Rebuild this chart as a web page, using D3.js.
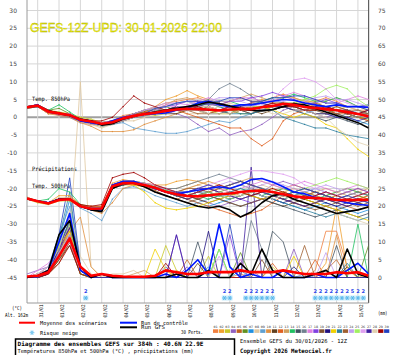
<!DOCTYPE html>
<html><head><meta charset="utf-8">
<script src="https://cdn.jsdelivr.net/npm/d3@7"></script>
<style>html,body{margin:0;padding:0;background:#fff;}svg{display:block;}</style>
</head><body><svg id="c" width="395" height="355"></svg>
<script>
// ---------- DATA (12-hourly steps, 0..384h) ----------
const dateLabels = ["31/01","01/02","02/02","03/02","04/02","05/02","06/02","07/02","08/02","09/02","10/02","11/02","12/02","13/02","14/02","15/02"];
const leftTicks = [30,25,20,15,10,5,0,-5,-10,-15,-20,-25,-30,-35,-40,-45];
const rightTicks = [75,70,65,60,55,50,45,40,35,30,25,20,15,10,5,0];
const memberColors = ["#f08040","#f0a030","#c8c828","#9060c0","#c06020","#609020","#2090e0","#e0c8a0","#60a0d0","#e09040","#604020","#e06020","#d0a060","#20c060","#405060","#708090","#e080e0","#8040e0","#805030","#201080","#f0d000","#3080a0","#a06030","#c0a0f0","#a0f060","#e0a0f0","#4020a0","#e0d0b0","#a00000","#2040c0"];

const t850Mean = [2.8,3.3,1.6,1.1,0.6,-0.7,-1.2,-1.8,-1.4,-0.3,0.4,0.9,1.3,1.8,2.2,2.4,2.3,2.2,1.9,2.2,2.4,2.3,2.8,3.2,3.8,3.5,2.9,2.6,2.3,2.0,1.5,0.9,0.3];
const t850Ctrl = [2.8,3.5,1.5,1.0,0.5,-1,-1.5,-2,-1,0,0.5,0.8,1,1.2,2,2.5,4,4.5,3.5,3,3.5,3.5,4,4.5,5,4.8,4,3.5,3,3.5,3,3,2.8];
const t850Gfs = [2.8,3.2,1.8,1.2,0.5,-0.5,-1,-2.2,-1.8,-0.5,0.2,1,1.5,2,2.5,3,3.5,4.3,3.8,3.2,2.5,2,1.8,2.2,3,3.8,3.5,2.5,1.5,0.5,-0.5,-1.5,-3];
const t850Perts = [
[3,3.5,2,1,0.5,-1,-1.5,-2,-1,0.5,1,2,3,4,4.5,5,5.5,4.5,3.5,4.5,5.5,4.5,4.5,5.5,6.5,5.5,4.5,4.5,5.5,4.5,3,2,2],
[3,3,1.5,1,0,-1,-2,-2.5,-2,-1,0,1.5,3,5,6,7.5,6,5,4,3,3,4,5,4,4,3,2,2,3,2,1,0,0],
[2.5,3,2,1.5,1,0,-0.5,-1.5,-1,0,1,1,0.5,1,2,2.5,3,2,1,1,2,3,3,2,3,4,5,4,3,2,3,3,2],
[3,3.5,1.5,0.5,0,-1.5,-2,-2,-1.5,-0.5,0,0.5,1,1.5,1,0,-2,-4,-3,-5,-4,-3.5,-2,0,2,3,2,1,0,1,2,1,0],
[2.5,3,1,1,1,-0.5,-1,-2,-2,-1,0,1,2,2,3,3,2,1,2,3,2,1,2,3,4,4,3,4,3,2,1,0,-1],
[3,3,2,2.5,1,-1,-1,-1.5,-1,0,1,1,2,3,2,2,3,4,3,2,1,1,2,3,3,2,2,1,1,2,1,0,-0.5],
[3,3.5,1.5,1,0.5,-1,-1.5,-2.5,-2,-1,0,0.5,1,1,2,3,4,4,3,2,2,3,4,5,4,3,2,3,2,1,0,-1,-2],
[2.5,3,1.5,1,0,-1.5,-2,-3,-2,-1,-1,0,1,2,2,1,1,2,3,4,3,2,2,3,3,4,4,3,2,2,3,2,1],
[3,3,1.5,1,0.5,-1,-1.5,-2,-2,-1.5,-3,-3.5,-4,-4.5,-4.5,-4,-3,-2,-1,-1.5,0,1,2,3,3,2,1,2,1,0,1,2,1],
[3,3,1,0.5,0,-1.5,-2.5,-4,-4,-4,-3.5,-2,-1,0,1,2,3,3,2,1,2,3,3,2,3,3,4,3,2,3,2,1,0],
[3,3.5,2,1,1,-0.5,-1,-1.5,-1,0,1,2,2,1,1,2,2,3,2,2,3,2,1,2,3,4,3,2,2,1,0,1,1],
[3,3,1.5,1,0.5,-1,-1.5,-2,-1.5,0,1,1.5,2,2,2,1,0,-1,-2,-3,-3,-6,-8,-6,-1,1,2,3,2,1,1,0,-1],
[3,3,1.5,1,0.5,-1,-1,-1.5,-1,0,0.5,1,2,3.5,5,5.5,4.5,3.5,3.5,4.5,5.5,6.5,5.5,4.5,5.5,5.5,4.5,3.5,4.5,5.5,4.5,3,3],
[3,3.5,2,3.5,1.5,-0.5,-1,-1.5,-1,0,1,2,2.5,3,4,4.5,3.5,3.5,4.5,4.5,3.5,3.5,4.5,5.5,5.5,6.5,5.5,4.5,4.5,5.5,4.5,3,3.5],
[2.5,3,1.5,1,0.5,-1,-1.5,-2,-1.5,-0.5,0,0.5,1,2,3,3,2,1,1,2,2,1,2,2,3,2,1,0,-1,0,-1,-2,-1],
[3,3,1.5,1,0,-1,-1.5,-2.5,-2,-0.5,0.5,1,2,2,2,3,4,5,8,9.5,8,6,4,3,4,3,2,3,2,2,1,0,1],
[3,3,2,1,1,-0.5,-1,-1.5,-1,0,1,2,2.5,3.5,4,3.5,4.5,5.5,4.5,4.5,5.5,5.5,4.5,4.5,6,7,6,5,4,4,5,6,5],
[3,3.5,1.5,1,0.5,-1,-1.5,-2,-1.5,-0.5,0,1,2,3,3.5,4.5,4.5,3.5,3.5,4.5,4.5,5.5,6,7,6,5,4,4,5,4,3,3,3.5],
[3,3,1.5,1,0.5,-1,-1.5,-2,-1.5,0,1,1.5,1,2,3,3,3,2,2,1,2,3,3,4,4,3,3,2,2,3,2,1,0],
[3,3,1.5,1,0.5,-1,-1.5,-2,-2,-1,0,1,2,2,3,3,2,2,2,3,3,3,2,2,3,4,3,3,3,2,2,1,2],
[3,3,1.5,1,0.5,-1,-1.5,-2,-1.5,-0.5,0,1,1,2,2,2,3,3,2,2,2,3,3,2,1,0,1,0,-2,-3,-6,-9,-11],
[3,3,1.5,1,0.5,-1,-1.5,-2,-1.5,-0.5,0,0.5,1,1.5,2,2,2,2,2,1,1,1,2,2,0,-1,-2,-3,-3,-4,-5,-5.5,-6],
[3,3,1.5,1,0.5,-1,-1.5,-2,-1.5,0,0,1,1,2,2,2,1,1,2,2,2,2,3,3,3,3,2,2,1,1,2,2,1],
[3,3.5,2,1,0.5,-0.5,-1,-1.5,-1,0,1,2,3,4,4,4.5,3.5,4.5,5.5,5.5,4.5,3.5,3.5,4.5,4.5,3.5,4.5,5.5,6,5,5,4,3],
[3,3,1.5,1,0.5,-1,-1.5,-2,-1.5,0,0.5,1,2,2,2,3,3,3,2,2,3,3,3,3,4,4,5,6,8,9,8,5,3],
[3,3,1.5,1,0.5,-1,-1.5,-2,-1.5,0,0.5,1,2,3,3,3,3,3,2,3,3,3,4,5,8,10.5,11,10,8,5,4,3,3],
[3,3,1.5,1,0.5,-1,-1.5,-2,-1.5,-0.5,0,1,1.5,2,2,2,3,4,4,3,3,4,4,3,3,2,2,1,1,0,0,-1,0],
[3,3,1.5,1,0.5,-1,-1.5,-2.5,-2,-1,0,0.5,1,1,2,2,2,1,1,1,2,2,2,1,1,2,2,1,0,-3,-5,-7,-8],
[3,3.5,2,1,0.5,-0.5,-1,-1,0,3,6,4,3,2,2,3,3,2,2,3,2,2,3,4,3,3,2,2,3,2,1,1,2],
[3,3,1.5,1,0.5,-1,-1.5,-2,-1.5,-0.5,0.5,1,2.5,3,4,4.5,4.5,4.5,4.5,5.5,5.5,4.5,4.5,5.5,5.5,6,6,5,4,4,3,3,2]
];

const t500Mean = [-22.8,-23.6,-24.2,-23.2,-23.0,-25.0,-25.7,-25.6,-19.4,-18.5,-18.5,-19.0,-19.8,-20.9,-21.6,-22.1,-22.2,-21.9,-21.6,-21.4,-21.0,-20.7,-20.6,-21.0,-21.6,-22.2,-22.5,-22.7,-22.9,-23.2,-23.3,-23.2,-23.2];
const t500Ctrl = [-22.8,-23.5,-24,-23,-23,-25,-26,-26,-19,-18,-18,-19,-20,-21,-21.5,-21,-20.5,-20,-19.5,-20,-19,-17.5,-17.2,-18.2,-19.5,-21,-21.5,-22.5,-23,-23.3,-24,-24.5,-24.7];
const t500Gfs = [-22.8,-23.6,-24.2,-23,-23,-25,-26,-26.5,-20,-18.5,-18.5,-19.5,-21,-22,-23,-24,-25,-25.5,-25,-26,-28,-26.6,-24,-22,-21.5,-23,-24,-25,-26,-27,-26.5,-26,-25.2];
const t500Perts = [
[-23,-23.5,-24,-23,-23,-25,-25,-25,-19,-18,-18,-19,-20,-21,-22,-23,-22,-21,-20,-21,-22,-21,-20,-21,-22,-23,-22,-21,-22,-23,-24,-23,-22],
[-22.5,-23.5,-24,-22,-22,-24.5,-25.5,-25,-18.5,-17.5,-18,-18.5,-19,-19,-18,-17.5,-18,-19,-20,-19,-18,-19,-20,-21,-20,-19,-20,-21,-22,-21,-20,-21,-22],
[-23,-24,-24.5,-23.5,-23.5,-25,-26,-26,-20,-19,-19,-19.5,-20,-21,-22,-22,-21,-20,-21,-22,-23,-22,-21,-20,-21,-22,-23,-24,-23,-22,-21,-22,-23],
[-23,-23.5,-24,-23,-23,-25,-25.5,-25.5,-19.5,-18.5,-18.5,-19,-20,-21,-21,-22,-23,-24,-25,-24,-23,-22,-21,-19,-18,-19,-20,-21,-22,-23,-22,-21,-22],
[-22.5,-23.5,-24,-23,-22.5,-24.5,-25,-25,-19,-18,-18.5,-19.5,-20.5,-22,-23,-22,-21,-20,-21,-22,-21,-20,-21,-22,-23,-24,-25,-24,-23,-24,-25,-26,-25],
[-23,-23.5,-24,-23,-23,-25,-26,-26,-20,-19,-18.5,-19,-20,-20,-21,-22,-23,-22,-21,-20,-19,-20,-21,-22,-23,-22,-21,-22,-23,-24,-23,-22,-23],
[-23,-23.5,-24,-23,-23,-25,-25.5,-26,-19.5,-18.5,-18.5,-19,-20,-21,-22,-23,-24,-25,-24,-23,-22,-21,-22,-23,-24,-25,-26,-25,-24,-25,-26,-27,-26],
[-22.5,-23.5,-24,-22.5,-22.5,-25,-25.5,-26,-20,-18.5,-18,-18.5,-19,-20,-21,-20,-19,-20,-21,-22,-21,-20,-19,-20,-21,-22,-23,-22,-21,-22,-23,-22,-21],
[-23,-23.5,-24,-23,-23,-25.5,-27,-29,-23,-20,-19.5,-20.5,-22,-23,-24,-25,-24,-23,-22,-22,-21,-20,-21,-22,-23,-22,-21,-20,-21,-22,-23,-24,-23],
[-23,-23.5,-24,-23,-23,-25,-26,-27,-24,-20,-19,-19.5,-20,-21,-21,-20,-19,-18,-19,-20,-21,-22,-23,-22,-21,-20,-21,-22,-23,-22,-21,-20,-21],
[-23,-23.5,-24,-23,-23,-25,-25.5,-25.5,-19,-18,-18,-19,-20,-21,-22,-22,-23,-24,-23,-22,-21,-22,-23,-24,-25,-24,-23,-24,-25,-26,-25,-24,-25],
[-23,-23.5,-24,-23,-23,-25,-25.5,-25.5,-19.5,-18.5,-18.5,-19,-20,-21,-22,-23,-24,-25,-26,-27,-28,-27,-26,-24,-22,-21,-20,-21,-22,-23,-24,-23,-22],
[-23,-23.5,-24,-23,-23,-25,-25.5,-25.5,-19,-18,-18,-18.5,-19,-20,-20,-19,-18,-19,-20,-19,-18,-17,-18,-19,-20,-21,-22,-21,-20,-21,-22,-21,-20],
[-23,-23.5,-23,-20,-21,-24.5,-25.5,-25.5,-19.5,-18.5,-18,-18.5,-19.5,-20.5,-21,-21,-22,-23,-22,-21,-20,-21,-22,-21,-20,-21,-22,-23,-22,-21,-20,-21,-22],
[-23,-23.5,-24,-23,-23,-25,-25.5,-26,-19.5,-18.5,-18.5,-19,-20,-21,-22,-22,-21,-22,-23,-24,-25,-24,-23,-24,-25,-26,-27,-28,-27,-26,-27,-28,-27],
[-23,-23.5,-24,-23,-23,-25,-25.5,-25.5,-19,-18.5,-18.5,-19,-19.5,-20,-20,-19,-18,-17,-16,-17,-18,-19,-20,-21,-22,-21,-20,-21,-22,-23,-22,-21,-22],
[-23,-23.5,-24,-23,-23,-25,-25.5,-25.5,-19,-18,-18,-18.5,-19,-20,-21,-21,-20,-19,-20,-21,-20,-19,-18,-19,-20,-19,-18,-19,-20,-21,-20,-19,-20],
[-23,-23.5,-24,-23,-23,-25,-25.5,-25.5,-19.5,-18.5,-18.5,-19,-20,-21,-21,-22,-21,-20,-21,-22,-23,-24,-23,-22,-21,-22,-23,-22,-21,-22,-21,-20,-21],
[-23,-23.5,-24,-23,-23,-25,-25.5,-25.5,-19.5,-18.5,-18.5,-19.5,-21,-22,-23,-24,-23,-22,-23,-24,-25,-24,-23,-22,-23,-24,-25,-26,-25,-24,-23,-24,-25],
[-23,-23.5,-24,-23,-23,-25,-25.5,-26,-20,-19,-18.5,-19,-20,-21,-22,-23,-22,-21,-22,-23,-22,-21,-22,-23,-24,-23,-22,-23,-24,-25,-24,-23,-24],
[-23,-23.5,-24,-23,-23,-25,-25.5,-25.5,-19.5,-18.5,-19,-21,-24,-25.5,-26,-25.5,-25,-24,-23,-22,-21,-22,-23,-22,-21,-22,-23,-24,-25,-26,-27,-28,-29],
[-23,-23.5,-24,-23,-23,-25,-25.5,-25.5,-19.5,-18.5,-18.5,-19,-20,-21,-22,-22,-21,-21,-22,-21,-20,-21,-22,-23,-24,-25,-26,-27,-28,-27,-28,-29,-28],
[-23,-23.5,-24,-23,-23,-25,-25.5,-25.5,-19.5,-18.5,-18.5,-19,-20,-21,-21,-20,-20,-21,-20,-19,-18,-19,-20,-21,-22,-23,-22,-21,-22,-23,-24,-25,-24],
[-23,-23.5,-24,-23,-23,-25,-25.5,-25.5,-19.5,-18.5,-18.5,-19,-20,-20,-21,-22,-21,-20,-19,-18,-19,-20,-19,-18,-19,-20,-21,-20,-19,-20,-21,-22,-21],
[-23,-23.5,-24,-23,-23,-25,-25.5,-25.5,-19.5,-18.5,-18.5,-19,-20,-21,-22,-22,-22,-21,-22,-23,-22,-21,-20,-21,-22,-21,-20,-19,-18,-17,-18,-19,-20],
[-23,-23.5,-24,-23,-23,-25,-25.5,-25.5,-19.5,-18.5,-18.5,-19,-20,-21,-21,-21,-20,-19,-18,-17,-16,-15,-15,-15.5,-16,-17,-19,-20,-21,-22,-23,-22,-21],
[-23,-23.5,-24,-23,-23,-25,-25.5,-25.5,-19.5,-18.5,-18.5,-19,-20,-21,-22,-21,-20,-20,-21,-22,-23,-22,-21,-22,-23,-24,-25,-24,-23,-24,-25,-24,-23],
[-23,-23.5,-24,-23,-23,-25,-25.5,-25.5,-19.5,-18.5,-18.5,-19,-20,-21,-21,-21,-22,-22,-21,-22,-22,-21,-22,-23,-22,-23,-24,-25,-26,-27,-28,-29,-30],
[-23,-23.5,-24,-23,-23,-24.5,-25,-24.5,-17,-16,-15.5,-17,-19,-20,-21,-22,-21,-20,-19,-20,-21,-22,-21,-20,-21,-22,-23,-22,-21,-22,-23,-22,-21],
[-23,-23.5,-24,-23,-23,-25,-25.5,-25.5,-19.5,-18.5,-18.5,-19,-20,-21,-21,-21,-20,-19,-20,-19,-18,-19,-20,-21,-22,-21,-20,-21,-22,-23,-22,-23,-24]
];

const precMean = [0.3,0.5,1.5,6,11,3,0.5,1,0.5,0.3,0.2,0.2,0.5,2,1.5,1,1,1.5,1.5,1.5,2,1.5,1.5,1.5,2,1.5,1,1,1,1.5,1.2,1.5,0.5];
const precCtrl = [0,0.5,2,10,18,2,0,1,0,0,0,0,0,1,0,2,5,1,15,3,0,1,0,0,2,0,0,1,0,0,2,4,1];
const precGfs = [0,0.5,2,12,16,3,0,1,0,0,0,0,0,0,1,0,0,2,0,0,4,1,8,2,0,0,0,1,2,0,8,1,0];
const precPerts = [
[0,1,2,6,12,2,0,0,0,0,0,0,0,0,0,0,0,0,0,0,1,0,0,0,0,0,0,2,13,13,3,0,0],
[0,0,1,5,14,3,0,1,0,0,0,0,0,0,2,0,0,0,0,0,0,0,0,0,0,0,0,0,4,20,2,0,1],
[0,0,2,8,10,1,0,0,0,0,0,0,0,9,2,0,0,6,0,0,0,0,0,3,0,0,0,0,0,0,0,0,0],
[1,2,3,9,15,2,0,1,0,0,0,0,0,0,0,3,0,0,0,0,0,2,0,0,0,8,0,0,0,0,0,0,0],
[0,0,1,4,10,2,0,0,0,0,0,0,0,0,0,5,0,0,0,0,0,0,0,0,0,0,0,0,2,5,0,0,0],
[0,0,1,7,14,1,0,1,0,0,0,0,0,0,0,0,0,0,0,0,7,0,0,0,0,0,0,0,0,0,0,0,9],
[0,1,2,10,22,3,0,0,0,0,0,0,0,0,0,0,0,3,0,0,2,0,0,0,0,0,0,0,0,0,0,0,0],
[0,0,1,5,11,55,3,0,1,1,2,0,0,0,0,0,0,0,0,0,0,0,0,0,0,0,0,0,0,0,0,0,0],
[0,1,3,12,20,2,0,0,0,0,0,0,0,0,0,0,0,0,0,0,0,0,0,0,0,0,1,0,0,0,0,0,0],
[0,0,2,6,13,17,3,0,0,0,0,0,0,0,0,0,0,0,0,0,0,0,0,0,0,3,0,0,0,12,0,0,0],
[0,0,1,5,9,1,0,0,0,0,0,0,0,0,0,0,4,0,0,0,0,0,0,0,0,0,0,0,0,0,3,0,0],
[0,1,2,7,14,2,0,1,0,0,0,0,0,0,0,0,0,0,0,0,0,0,0,4,0,0,0,5,0,0,0,0,0],
[0,0,2,8,13,3,0,0,0,0,1,2,0,0,0,0,0,0,0,0,0,0,0,0,0,0,0,0,0,0,0,0,0],
[0,1,2,9,16,2,0,0,0,0,0,0,0,0,0,0,0,0,8,0,0,0,0,0,0,0,0,0,0,0,0,15,0],
[0,0,1,6,12,2,0,1,0,0,0,0,0,0,0,0,10,0,0,0,0,0,0,13,10,0,0,0,0,9,0,0,0],
[0,0,2,7,15,2,0,0,0,0,0,0,0,3,0,0,0,0,0,0,0,16,8,0,0,0,0,0,0,0,0,0,0],
[0,2,4,8,14,2,0,0,0,0,0,0,0,0,0,0,0,0,0,0,5,0,0,0,0,0,0,0,0,0,0,0,0],
[0,1,3,10,17,2,0,1,0,0,0,0,0,0,12,0,0,0,0,12,0,0,0,0,0,0,0,0,0,0,0,0,0],
[0,0,1,5,10,1,0,0,0,0,0,0,0,0,0,0,0,0,0,0,0,0,5,0,0,0,0,0,0,0,0,0,0],
[0,0,2,8,14,3,0,0,0,0,0,0,0,0,0,0,0,13,0,0,0,0,0,0,0,0,0,0,0,0,0,0,0],
[0,1,2,9,13,2,0,0,0,0,0,0,8,2,0,0,0,0,0,0,0,0,0,0,0,6,0,0,0,0,0,0,0],
[0,0,2,11,24,2,0,0,0,0,0,0,0,0,0,0,0,0,0,0,0,0,0,0,0,0,0,0,0,0,4,0,0],
[0,0,1,6,11,2,0,1,0,0,0,0,0,0,0,0,0,0,0,0,0,0,0,0,0,0,9,0,0,0,0,0,0],
[0,1,2,7,12,2,0,0,0,0,0,0,0,0,0,0,0,0,0,0,0,0,0,0,0,0,0,0,7,0,0,0,0],
[0,0,2,9,15,1,0,0,0,0,0,0,0,0,0,0,0,0,8,0,0,0,0,0,0,0,0,0,0,0,0,0,0],
[0,1,3,6,10,2,0,0,0,0,0,0,0,0,0,0,0,0,6,0,0,0,0,0,0,0,0,0,0,0,0,0,0],
[0,0,1,8,16,2,0,0,0,0,0,0,0,0,12,0,0,0,0,0,0,31,0,0,0,0,0,0,0,0,0,0,0],
[0,1,3,8,19,6,1,0,0,0,0,0,0,0,0,0,0,0,0,0,0,0,0,0,0,0,0,0,0,0,0,0,0],
[0,0,1,4,9,1,0,0,0,0,0,0,0,4,0,0,0,0,0,0,0,0,0,0,0,0,0,0,0,0,0,0,0],
[0,0,2,12,28,3,0,0,0,0,0,0,0,0,0,0,0,0,0,15,0,0,0,0,0,3,0,0,0,0,0,0,0]
];

const snowHours  = [66,222,228,246,252,258,264,270,276,324,330,336,342,348,354,360,366,372,378];
const snowCounts = [2,2,2,2,2,2,2,2,2,2,2,2,2,2,2,2,5,2,2];

// ---------- DRAWING ----------
const svg = d3.select("#c");
const STEP = 12;
const x = d3.scaleLinear().domain([0,384]).range([27,368.6]);
const y = d3.scaleLinear().domain([-45,30]).range([277.5,10.5]);
const yP = d3.scaleLinear().domain([0,75]).range([277.5,10.5]);
const plotTop = 0, plotBot = 303;

svg.append("rect").attr("width",395).attr("height",355).attr("fill","#fff");

const mono = "'DejaVu Sans Mono','Liberation Mono',monospace";
function txt(px, py, s, o={}) {
  const t = svg.append("text").attr("x",px).attr("y",py).text(s)
    .attr("font-family", o.family || mono)
    .attr("font-size", o.size || 6)
    .attr("fill", o.fill || "#000")
    .attr("font-weight", o.weight || "normal")
    .attr("text-anchor", o.anchor || "start");
  if (o.len) t.attr("textLength", o.len).attr("lengthAdjust","spacingAndGlyphs");
  if (o.stroke) t.attr("stroke", o.stroke).attr("stroke-width", o.sw || 0.5);
  if (o.transform) t.attr("transform", o.transform);
  return t;
}

// grid
const grid = svg.append("g");
leftTicks.forEach(v => {
  grid.append("line").attr("x1",x(0)).attr("x2",x(384)).attr("y1",y(v)).attr("y2",y(v))
    .attr("stroke", v===0 ? "#a0a0a0" : "#d6d6d6").attr("stroke-width", v===0 ? 2 : 1);
});
dateLabels.forEach((d,i) => {
  const h = 12 + 24*i;
  grid.append("line").attr("x1",x(h)).attr("x2",x(h)).attr("y1",plotTop).attr("y2",plotBot)
    .attr("stroke","#d6d6d6").attr("stroke-width",1);
});
// frame
svg.append("line").attr("x1",x(0)).attr("x2",x(0)).attr("y1",plotTop).attr("y2",plotBot).attr("stroke","#9a9a9a");
svg.append("line").attr("x1",x(384)).attr("x2",x(384)).attr("y1",plotTop).attr("y2",plotBot).attr("stroke","#606060").attr("stroke-width",1.2);
svg.append("line").attr("x1",x(0)).attr("x2",x(384)).attr("y1",plotBot).attr("y2",plotBot).attr("stroke","#9a9a9a");

// tick labels
leftTicks.forEach(v => txt(17, y(v)+2, String(v), {anchor:"end", size:6, family:"'DejaVu Sans',sans-serif", fill:"#444"}));
rightTicks.forEach(v => txt(378, yP(v)+2, String(v), {size:6, family:"'DejaVu Sans',sans-serif", fill:"#444"}));

// title
txt(30, 31.5, "GEFS-12Z-UPD:  30-01-2026  22:00", {family:"'Liberation Sans',Arial,sans-serif", size:13.5, fill:"#ffff10", stroke:"#a8a800", sw:0.35, len:192});

// in-plot labels
txt(32, 101, "Temp. 850hPa", {size:6, len:38});
txt(32, 171, "Précipitations", {size:6, len:45});
txt(32, 188, "Temp. 500hPa", {size:6, len:38});

// clip
svg.append("clipPath").attr("id","clip").append("rect")
  .attr("x",x(0)).attr("y",plotTop).attr("width",x(384)-x(0)).attr("height",plotBot-plotTop);
const plot = svg.append("g").attr("clip-path","url(#clip)");

const lineT = d3.line().x((d,i)=>x(i*STEP)).y(d=>y(d));
const lineP = d3.line().x((d,i)=>x(i*STEP)).y(d=>yP(d));

function drawSet(arr, gen, col, w) {
  plot.append("path").attr("d", gen(arr)).attr("fill","none").attr("stroke",col).attr("stroke-width",w).attr("stroke-linejoin","round");
}
function drawDots(arr, sc, col) {
  arr.forEach((d,i) => {
    plot.append("rect").attr("x", x(i*STEP)-0.6).attr("y", sc(d)-0.6)
      .attr("width",1.2).attr("height",1.2).attr("fill",col);
  });
}
// members
precPerts.forEach((a,i) => drawSet(a, lineP, memberColors[i], 0.8));
t500Perts.forEach((a,i) => drawSet(a, lineT, memberColors[i], 0.8));
t850Perts.forEach((a,i) => drawSet(a, lineT, memberColors[i], 0.8));
t850Perts.forEach((a,i) => drawDots(a, y, memberColors[i]));
t500Perts.forEach((a,i) => drawDots(a, y, memberColors[i]));
// control & gfs
[[precCtrl,lineP],[t500Ctrl,lineT],[t850Ctrl,lineT]].forEach(([a,g]) => drawSet(a, g, "#0018ff", 1.6));
[[precGfs,lineP],[t500Gfs,lineT],[t850Gfs,lineT]].forEach(([a,g]) => drawSet(a, g, "#000", 1.6));
// mean
[[precMean,lineP],[t500Mean,lineT],[t850Mean,lineT]].forEach(([a,g]) => drawSet(a, g, "#ff0000", 2.6));

// snow risk
function flake(cx, cy, r, col, w) {
  [0,60,120].forEach(a => {
    const rad = a*Math.PI/180, dx = r*Math.cos(rad), dy = r*Math.sin(rad);
    svg.append("line").attr("x1",cx-dx).attr("y1",cy-dy).attr("x2",cx+dx).attr("y2",cy+dy)
      .attr("stroke",col).attr("stroke-width",w);
  });
}
snowHours.forEach((h,i) => {
  const cx = x(h);
  svg.append("rect").attr("x",cx-2.7).attr("y",295.5).attr("width",5.4).attr("height",5).attr("fill","#c8ecfb");
  flake(cx, 298, 2.3, "#55b4ea", 0.9);
  txt(cx, 293, String(snowCounts[i]), {anchor:"middle", size:5, fill:"#2a44e8", family:"'DejaVu Sans',sans-serif", weight:"bold"});
});

// date labels (rotated)
dateLabels.forEach((d,i) => {
  const gx = x(12+24*i) + 5;
  txt(gx, 304.5, d, {size:5, anchor:"end", len:13, transform:`rotate(-90,${gx},304.5)`});
});
txt(12, 310, "(°C)", {size:5.5, len:10});
txt(5, 317, "Alt. 162m", {size:5.5, len:23});
txt(378, 315, "(mm)", {size:5.5, len:9.5});

// legend
svg.append("line").attr("x1",19).attr("x2",35).attr("y1",322.7).attr("y2",322.7).attr("stroke","#ff0000").attr("stroke-width",2);
txt(40, 324.8, "Moyenne des scénarios", {size:5.5, len:67});
svg.append("line").attr("x1",120).attr("x2",137).attr("y1",322.7).attr("y2",322.7).attr("stroke","#0018ff").attr("stroke-width",2);
txt(141, 324.8, "Run de contrôle", {size:5.5, len:47});
svg.append("line").attr("x1",120).attr("x2",137).attr("y1",327.3).attr("y2",327.3).attr("stroke","#000").attr("stroke-width",2);
txt(141, 329.4, "Run GFS", {size:5.5, len:24});
flake(32, 332.7, 2.4, "#7cc8f0", 1.1);
txt(40, 334.8, "Risque neige", {size:5.5, len:38});
txt(181, 334, "30 Perts.", {size:5.5, len:22});
memberColors.forEach((c,i) => {
  const sx = 213 + i*5.9;
  svg.append("rect").attr("x",sx).attr("y",329.3).attr("width",5.2).attr("height",3.6).attr("fill",c);
  txt(sx+2.6, 327.6, d3.format("02d")(i+1), {size:3.2, anchor:"middle", len:4.2, fill:"#333"});
});

// bottom box
svg.append("rect").attr("x",15.5).attr("y",339).attr("width",219).attr("height",17).attr("fill","none").attr("stroke","#000").attr("stroke-width",1.5);
txt(17.5, 345.8, "Diagramme des ensembles GEFS sur 384h : 40.6N 22.9E", {size:6, weight:"bold", len:186});
txt(17.5, 353, "Températures 850hPa et 500hPa (°C) , précipitations (mm)", {size:5.5, len:176});
txt(240, 343, "Ensemble GEFS du 30/01/2026 - 12Z", {size:5.5, len:107});
txt(240, 353, "Copyright 2026 Meteociel.fr", {size:6, weight:"bold", len:92});
</script>
</body></html>
